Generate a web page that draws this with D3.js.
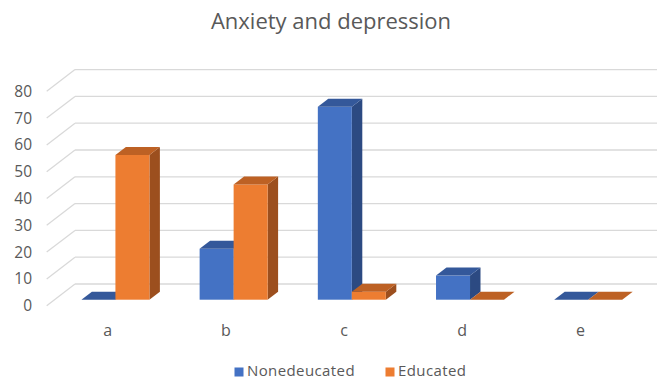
<!DOCTYPE html>
<html>
<head>
<meta charset="utf-8">
<script src="https://cdn.jsdelivr.net/npm/d3@7"></script>
<style>
  html, body { margin: 0; padding: 0; background: #fff; }
  svg { display: block; font-family: "Open Sans", "Noto Sans", sans-serif; }
</style>
</head>
<body>
<svg id="chart" width="657" height="380"></svg>
<script>
const title = "Anxiety and depression";
const categories = ["a", "b", "c", "d", "e"];
const seriesNames = ["Nonedeucated", "Educated"];
const nonedeucated = [0, 19, 72, 9, 0];
const educated = [54, 43, 3, 0, 0];
const yTicks = [0, 10, 20, 30, 40, 50, 60, 70, 80];

const seriesValues = [nonedeucated, educated];
const colors = {
  Nonedeucated: { front: "#4472C4", top: "#34589A", side: "#2C4A82" },
  Educated:     { front: "#ED7D31", top: "#BD6124", side: "#9C4F1E" }
};

const svg = d3.select("#chart");
const textColor = "#595959";

// 3D oblique geometry (offset of the full depth from front plane to back wall)
const depthDX = 28.3, depthDY = -21.7;
const barFrontT = 0.2765, barDepthT = 0.37;

const y = d3.scaleLinear().domain([0, 80]).range([305.7, 91.3]);
const x = d3.scaleBand().domain(categories).range([48.5, 639.5]);
const xs = d3.scaleBand().domain(seriesNames).range([-34, 34]);

// Grid: back wall lines + diagonal side wall lines
const grid = svg.append("g").attr("stroke", "#d9d9d9").attr("stroke-width", 1.3).attr("fill", "none");
yTicks.forEach(v => {
  const fx = 46.7, fy = y(v);
  const bx = fx + depthDX, by = fy + depthDY;
  grid.append("line").attr("x1", fx).attr("y1", fy).attr("x2", bx).attr("y2", by);
  grid.append("line").attr("x1", bx).attr("y1", by).attr("x2", 660).attr("y2", by);
});

// Y axis labels
svg.append("g").selectAll("text").data(yTicks).join("text")
  .attr("x", 32).attr("y", d => y(d)).attr("dy", "0.35em")
  .attr("text-anchor", "end").attr("fill", textColor).attr("font-size", 15.5)
  .text(d => d);

// Bars
const offX = depthDX * barFrontT, offY = depthDY * barFrontT;
const dX = depthDX * barDepthT, dY = depthDY * barDepthT;
const bars = svg.append("g");
categories.forEach((c, i) => {
  seriesNames.forEach((s, j) => {
    const v = seriesValues[j][i];
    const col = colors[s];
    const x0 = x(c) + x.bandwidth() / 2 + xs(s) + offX;
    const x1 = x0 + xs.bandwidth();
    const yb = y(0) + offY;
    const yt = y(v) + offY;
    const g = bars.append("g");
    if (v > 0) {
      g.append("polygon").attr("fill", col.side)
        .attr("points", [[x1, yt], [x1 + dX, yt + dY], [x1 + dX, yb + dY], [x1, yb]].join(" "));
      g.append("rect").attr("fill", col.front)
        .attr("x", x0).attr("y", yt).attr("width", x1 - x0).attr("height", yb - yt);
    }
    g.append("polygon").attr("fill", col.top)
      .attr("points", [[x0, yt], [x1, yt], [x1 + dX, yt + dY], [x0 + dX, yt + dY]].join(" "));
  });
});

// Category labels
svg.append("g").selectAll("text").data(categories).join("text")
  .attr("x", d => x(d) + x.bandwidth() / 2).attr("y", 330).attr("dy", "0.35em")
  .attr("text-anchor", "middle").attr("fill", textColor).attr("font-size", 16)
  .text(d => d);

// Title
svg.append("text").attr("x", 331).attr("y", 29).attr("text-anchor", "middle")
  .attr("fill", textColor).attr("font-size", 22).text(title);

// Legend
const legendX = [234.5, 385.5];
const leg = svg.append("g").selectAll("g").data(seriesNames).join("g")
  .attr("transform", (d, i) => `translate(${legendX[i]},367.5)`);
leg.append("rect").attr("width", 9).attr("height", 9).attr("fill", d => colors[d].front);
leg.append("text").attr("x", 12.5).attr("y", 8)
  .attr("fill", textColor).attr("font-size", 15).attr("letter-spacing", 0.4).text(d => d);
</script>
</body>
</html>
